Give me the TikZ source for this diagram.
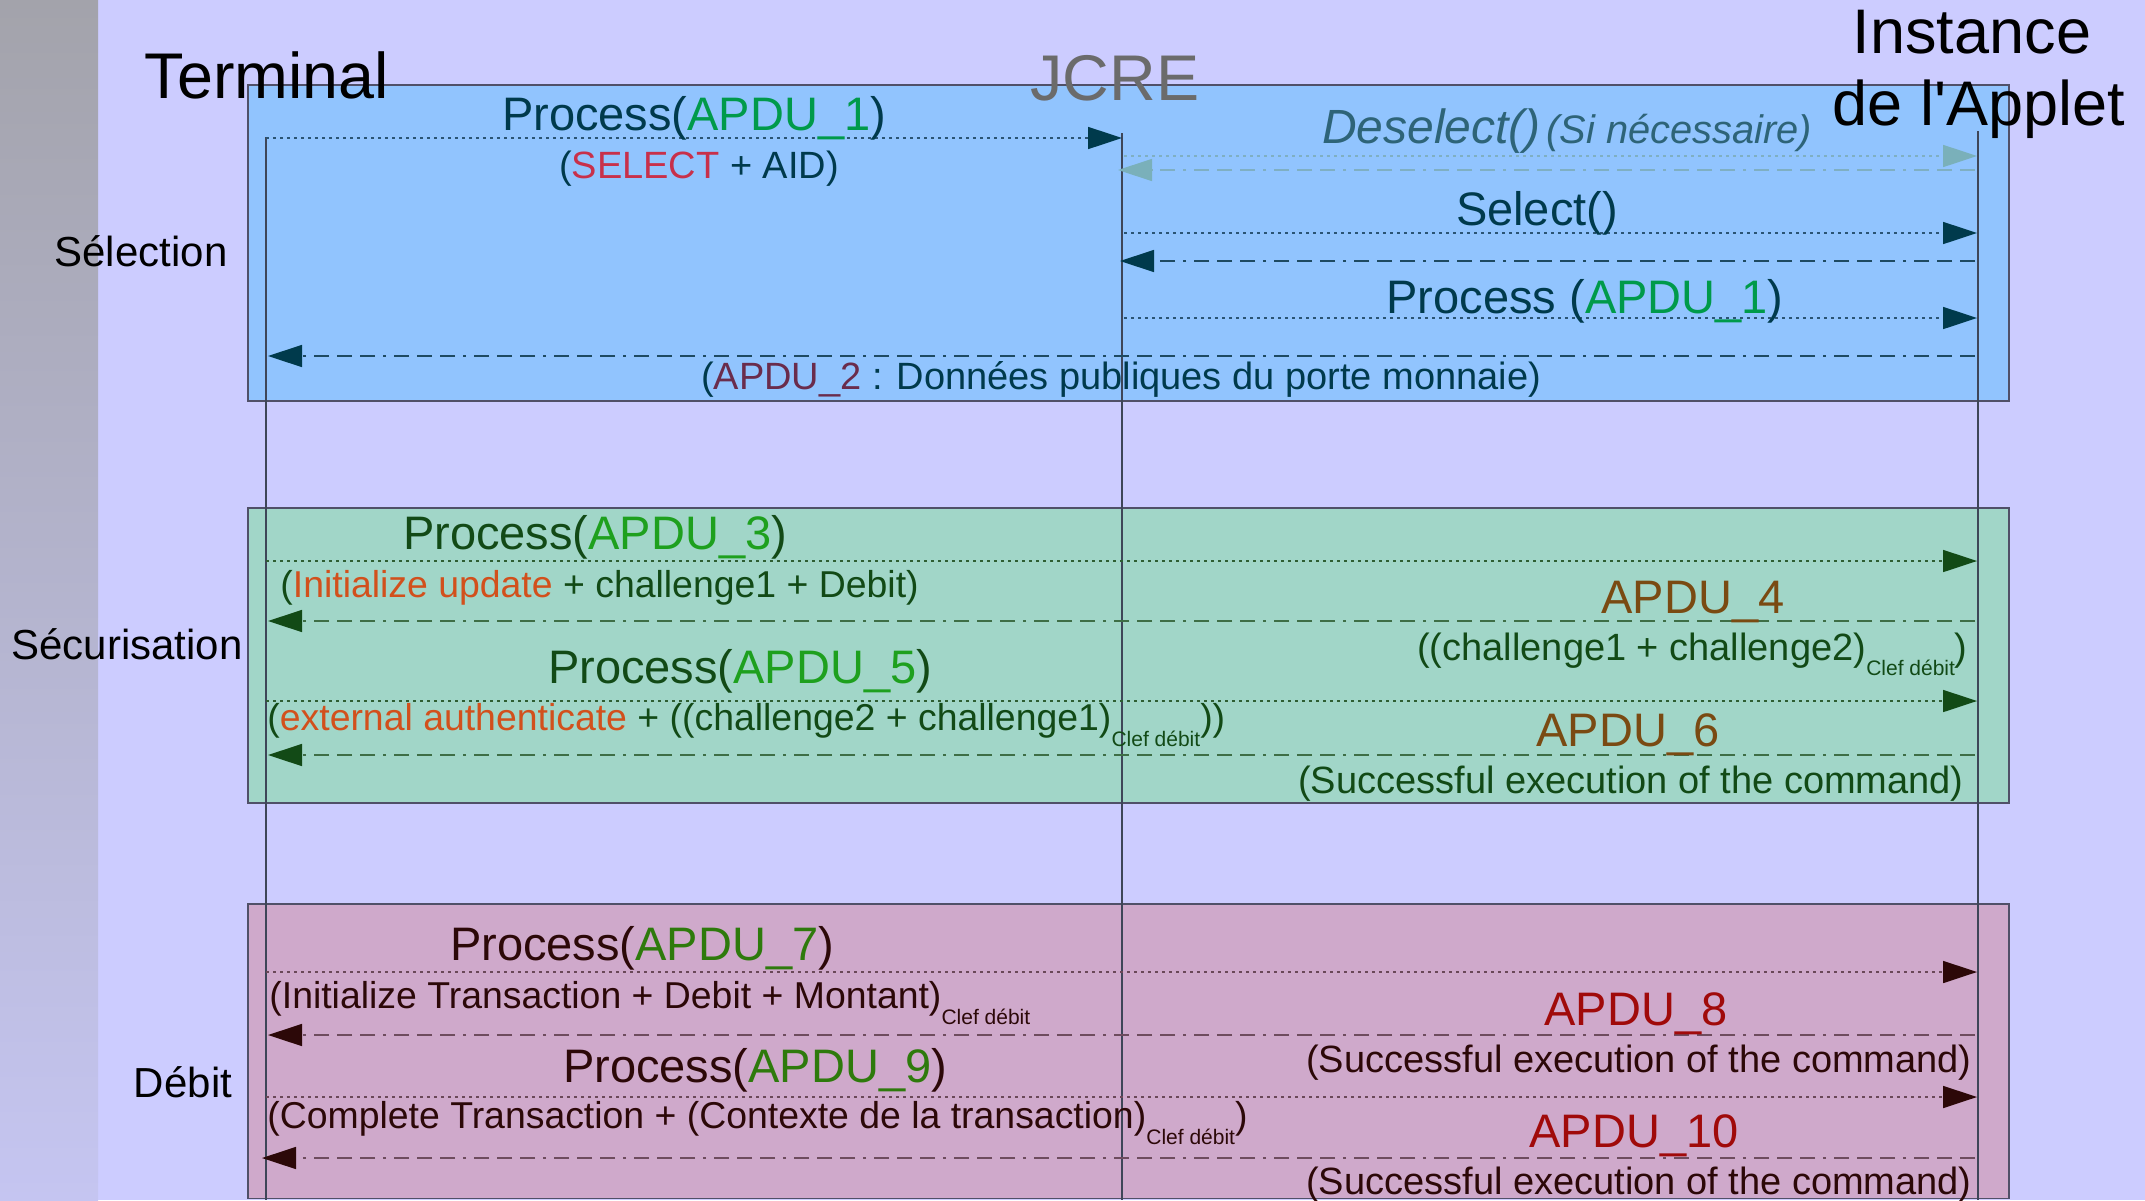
\documentclass[tikz,border=0pt]{standalone}
\usepackage{fontspec}
\setmainfont{Liberation Sans}
\usetikzlibrary{arrows.meta}
\definecolor{bg}{HTML}{CCCCFF}
\definecolor{stripT}{HTML}{A3A3AB}
\definecolor{stripB}{HTML}{C5C5F1}
\definecolor{selFill}{HTML}{91C4FE}
\definecolor{secFill}{HTML}{A1D6C8}
\definecolor{debFill}{HTML}{CFA9CB}
\definecolor{boxLine}{HTML}{505068}
\definecolor{life}{HTML}{3E4658}
\definecolor{selT}{HTML}{003A4C}
\definecolor{apduG}{HTML}{009A4A}
\definecolor{selRed}{HTML}{C8304A}
\definecolor{apduTwo}{HTML}{6A2C4C}
\definecolor{deselC}{HTML}{2E6478}
\definecolor{selLine}{HTML}{2A5474}
\definecolor{selDash}{HTML}{1E4A62}
\definecolor{deselLine}{HTML}{7FAFC2}
\definecolor{deselHead}{HTML}{7AB0BA}
\definecolor{secT}{HTML}{124A16}
\definecolor{secG}{HTML}{1EA01E}
\definecolor{secO}{HTML}{D2501C}
\definecolor{secB}{HTML}{7A4A12}
\definecolor{secLine}{HTML}{2E5E32}
\definecolor{secDash}{HTML}{3E6E46}
\definecolor{debT}{HTML}{2C0808}
\definecolor{debG}{HTML}{2E7A0C}
\definecolor{debR}{HTML}{A00A0A}
\definecolor{debLine}{HTML}{6A4858}
\definecolor{debDash}{HTML}{6E4C5E}
\definecolor{jcreC}{HTML}{6B6B6B}
\newcommand{\clefdebit}[1][8pt]{\raisebox{-#1}{\fontsize{10.5}{12}\selectfont Clef débit}}
\tikzset{
  lbl/.style={inner sep=0pt, anchor=base},
  bigf/.style={font=\fontsize{23.5}{28}\selectfont},
  medf/.style={font=\fontsize{19}{23}\selectfont},
  subf/.style={font=\fontsize{18.7}{23}\selectfont},
  hdrf/.style={font=\fontsize{31.5}{38}\selectfont},
  hdrb/.style={font=\fontsize{32.3}{38}\selectfont},
  sidef/.style={font=\fontsize{21}{25}\selectfont},
  boxd/.style={draw=boxLine, line width=0.9pt},
  lifeline/.style={draw=life, line width=0.6pt},
  dotmsg/.style={line width=0.8pt, dash pattern=on 1.5pt off 2pt},
  dashmsg/.style={line width=0.7pt, dash pattern=on 7.5pt off 4pt on 7.5pt off 4pt on 7.5pt off 4pt on 1.5pt off 4pt},
  tip/.style={-{Triangle[length=17pt,width=11pt,fill=#1,color=#1]}},
}
\begin{document}
\begin{tikzpicture}[x=0.5pt,y=-0.5pt]
\useasboundingbox (0,0) rectangle (2145,1200);
\fill[bg] (0,0) rectangle (2145,1200);
\shade[top color=stripT, bottom color=stripB] (0,0) rectangle (98,1200);

% boxes
\filldraw[boxd, fill=selFill] (248,85) rectangle (2009,401);
\filldraw[boxd, fill=secFill] (248,508) rectangle (2009,803);
\filldraw[boxd, fill=debFill] (248,904) rectangle (2009,1198.5);

% lifelines
\coordinate (T0) at (266,137); \coordinate (T1) at (266,1200);
\coordinate (J0) at (1122,133); \coordinate (J1) at (1122,1200);
\coordinate (A0) at (1978,131); \coordinate (A1) at (1978,1200);
\draw[lifeline] (T0) -- (T1);
\draw[lifeline] (J0) -- (J1);
\draw[lifeline] (A0) -- (A1);

% headers
\node[lbl,hdrb] (term) at (267,98) {Terminal};
\node[lbl,hdrb,text=jcreC] (jcre) at (1115,100) {JCRE};
\node[lbl,hdrf] (inst1) at (1972,53) {Instance};
\node[lbl,hdrf] (inst2) at (1979,125) {de l\textquotesingle Applet};

% side labels
\node[lbl,sidef] (lsel) at (141,266) {Sélection};
\node[lbl,sidef] (lsec) at (127,659) {Sécurisation};
\node[lbl,sidef] (ldeb) at (183,1097) {Débit};

% ---------- Selection ----------
\coordinate (s1a) at (266,138);  \coordinate (s1b) at (1122,138);
\coordinate (s2a) at (1124,156); \coordinate (s2b) at (1977,156);
\coordinate (s3a) at (1975,170); \coordinate (s3b) at (1118,170);
\coordinate (s4a) at (1124,233); \coordinate (s4b) at (1977,233);
\coordinate (s5a) at (1975,261); \coordinate (s5b) at (1120,261);
\coordinate (s6a) at (1124,318); \coordinate (s6b) at (1977,318);
\coordinate (s7a) at (1975,356); \coordinate (s7b) at (268,356);
\draw[dotmsg, draw=selLine, tip=selT] (s1a) -- (s1b);
\draw[dotmsg, draw=deselLine, tip=deselHead] (s2a) -- (s2b);
\draw[dashmsg, draw=deselLine, tip=deselHead] (s3a) -- (s3b);
\draw[dotmsg, draw=selLine, tip=selT] (s4a) -- (s4b);
\draw[dashmsg, draw=selDash, tip=selT] (s5a) -- (s5b);
\draw[dotmsg, draw=selLine, tip=selT] (s6a) -- (s6b);
\draw[dashmsg, draw=selDash, tip=selT] (s7a) -- (s7b);

\node[lbl,bigf,text=selT] (p1) at (694,130) {Process(\textcolor{apduG}{APDU\_1})};
\node[lbl,medf,text=selT] (p1s) at (699,178) {(\textcolor{selRed}{SELECT} + AID)};
\node[lbl,text=deselC] (desel) at (1567,143) {{\fontsize{24}{28}\selectfont\itshape Deselect()} {\fontsize{19.9}{23}\selectfont\itshape (Si nécessaire)}};
\node[lbl,bigf,text=selT] (selm) at (1537,225) {Select()};
\node[lbl,bigf,text=selT] (p1b) at (1585,313) {Process (\textcolor{apduG}{APDU\_1})};
\node[lbl,medf,text=selT] (a2) at (1121,389) {(\textcolor{apduTwo}{APDU\_2} : Données publiques du porte monnaie)};

% ---------- Securisation ----------
\coordinate (c1a) at (266,561);  \coordinate (c1b) at (1977,561);
\coordinate (c2a) at (1975,621); \coordinate (c2b) at (268,621);
\coordinate (c3a) at (266,701);  \coordinate (c3b) at (1977,701);
\coordinate (c4a) at (1975,755); \coordinate (c4b) at (268,755);
\draw[dotmsg, draw=secLine, tip=secT] (c1a) -- (c1b);
\draw[dashmsg, draw=secDash, tip=secT] (c2a) -- (c2b);
\draw[dotmsg, draw=secLine, tip=secT] (c3a) -- (c3b);
\draw[dashmsg, draw=secDash, tip=secT] (c4a) -- (c4b);

\node[lbl,bigf,text=secT] (p3) at (595,549) {Process(\textcolor{secG}{APDU\_3})};
\node[lbl,subf,text=secT,anchor=base west] (p3s) at (280,597) {(\textcolor{secO}{Initialize update} + challenge1 + Debit)};
\node[lbl,bigf,text=secB] (a4) at (1693,613) {APDU\_4};
\node[lbl,medf,text=secT,anchor=base east] (a4s) at (1968,660) {((challenge1 + challenge2)\clefdebit[7.5pt])};
\node[lbl,bigf,text=secT] (p5) at (740,683) {Process(\textcolor{secG}{APDU\_5})};
\node[lbl,subf,text=secT,anchor=base west] (p5s) at (267,730) {(\textcolor{secO}{external authenticate} + ((challenge2 + challenge1)\clefdebit))};
\node[lbl,bigf,text=secB] (a6) at (1628,746) {APDU\_6};
\node[lbl,medf,text=secT,anchor=base east] (a6s) at (1964,793) {(Successful execution of the command)};

% ---------- Debit ----------
\coordinate (d1a) at (266,972);   \coordinate (d1b) at (1977,972);
\coordinate (d2a) at (1975,1035); \coordinate (d2b) at (268,1035);
\coordinate (d3a) at (266,1097);  \coordinate (d3b) at (1977,1097);
\coordinate (d4a) at (1975,1158); \coordinate (d4b) at (262,1158);
\draw[dotmsg, draw=debLine, tip=debT] (d1a) -- (d1b);
\draw[dashmsg, draw=debDash, tip=debT] (d2a) -- (d2b);
\draw[dotmsg, draw=debLine, tip=debT] (d3a) -- (d3b);
\draw[dashmsg, draw=debDash, tip=debT] (d4a) -- (d4b);

\node[lbl,bigf,text=debT] (p7) at (642,960) {Process(\textcolor{debG}{APDU\_7})};
\node[lbl,subf,text=debT,anchor=base west] (p7s) at (269,1008) {(Initialize Transaction + Debit + Montant)\clefdebit};
\node[lbl,bigf,text=debR] (a8) at (1636,1025) {APDU\_8};
\node[lbl,medf,text=debT,anchor=base east] (a8s) at (1972,1072) {(Successful execution of the command)};
\node[lbl,bigf,text=debT] (p9) at (755,1082) {Process(\textcolor{debG}{APDU\_9})};
\node[lbl,subf,text=debT,anchor=base west] (p9s) at (267,1128) {(Complete Transaction + (Contexte de la transaction)\clefdebit)};
\node[lbl,bigf,text=debR] (a10) at (1634,1147) {APDU\_10};
\node[lbl,medf,text=debT,anchor=base east] (a10s) at (1972,1194) {(Successful execution of the command)};
\end{tikzpicture}
\end{document}
